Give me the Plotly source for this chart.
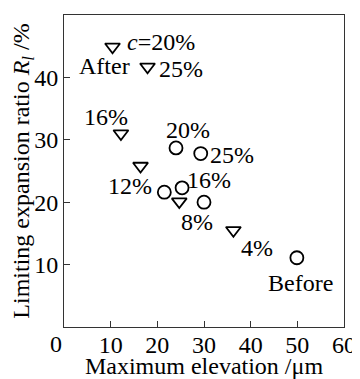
import plotly.graph_objects as go

# After treatment (triangles)
after_x = [10.4, 17.9, 12.2, 16.4, 24.7, 36.3]
after_y = [44.9, 41.7, 31.0, 25.8, 20.1, 15.5]
# Circles
circ_x = [24.0, 29.3, 21.5, 25.3, 30.0, 49.9]
circ_y = [28.7, 27.8, 21.6, 22.3, 20.0, 11.1]

# Labels
label_text = ["<i>c</i>=20%", "After", "25%", "16%", "20%", "25%", "12%", "16%", "8%", "4%", "Before"]
label_x = [13.1, 8.6, 25.1, 8.9, 26.5, 35.9, 14.1, 31.1, 28.4, 41.4, 50.6]
label_y = [45.7, 41.9, 41.4, 33.7, 31.5, 27.5, 22.6, 23.5, 16.9, 12.6, 7.1]
label_anchor = ["left", "center", "center", "center", "center", "center", "center", "center", "center", "center", "center"]

x_ticks = [10, 20, 30, 40, 50, 60]
y_ticks = [10, 20, 30, 40, 50]

FONT = "Liberation Serif, Times New Roman, DejaVu Serif, serif"
FS = 24

fig = go.Figure()
fig.add_trace(go.Scatter(
    x=after_x, y=after_y, mode="markers",
    marker=dict(symbol="triangle-down-open", size=13, color="black", line=dict(width=1.8)),
    showlegend=False))
fig.add_trace(go.Scatter(
    x=circ_x, y=circ_y, mode="markers",
    marker=dict(symbol="circle-open", size=13, color="black", line=dict(width=1.8)),
    showlegend=False))

for t, x, y, a in zip(label_text, label_x, label_y, label_anchor):
    fig.add_annotation(x=x, y=y, text=t, showarrow=False, xanchor=a, yanchor="middle",
                       font=dict(family=FONT, size=FS, color="black"))

fig.add_annotation(x=0, y=0, text="0", showarrow=False, xanchor="center", yanchor="top",
                   xshift=-8, yshift=-2, font=dict(family=FONT, size=FS, color="black"))

fig.update_xaxes(range=[0, 60], tickvals=x_ticks, ticks="inside", ticklen=6, tickcolor="#333",
                 showline=True, linecolor="#333", linewidth=1, mirror=True, showgrid=False,
                 zeroline=False, automargin=False, ticklabelstandoff=-4,
                 tickfont=dict(family=FONT, size=FS, color="black"),
                 title=dict(text="Maximum elevation /μm", standoff=1,
                            font=dict(family=FONT, size=FS, color="black")))
fig.update_yaxes(range=[0, 50], tickvals=y_ticks, ticks="inside", ticklen=6, tickcolor="#333",
                 showline=True, linecolor="#333", linewidth=1, mirror=True, showgrid=False,
                 zeroline=False, automargin=False,
                 tickfont=dict(family=FONT, size=FS, color="black"),
                 title=dict(text="Limiting expansion ratio <i>R</i><sub><i>l</i></sub> /%", standoff=0,
                            font=dict(family=FONT, size=FS, color="black")))

# page body has an 8px default margin, so the figure is sized to fit the window
fig.update_layout(width=352, height=371, margin=dict(l=56, r=16, t=7, b=52),
                  plot_bgcolor="white", paper_bgcolor="white")

fig.write_html("out.html")
